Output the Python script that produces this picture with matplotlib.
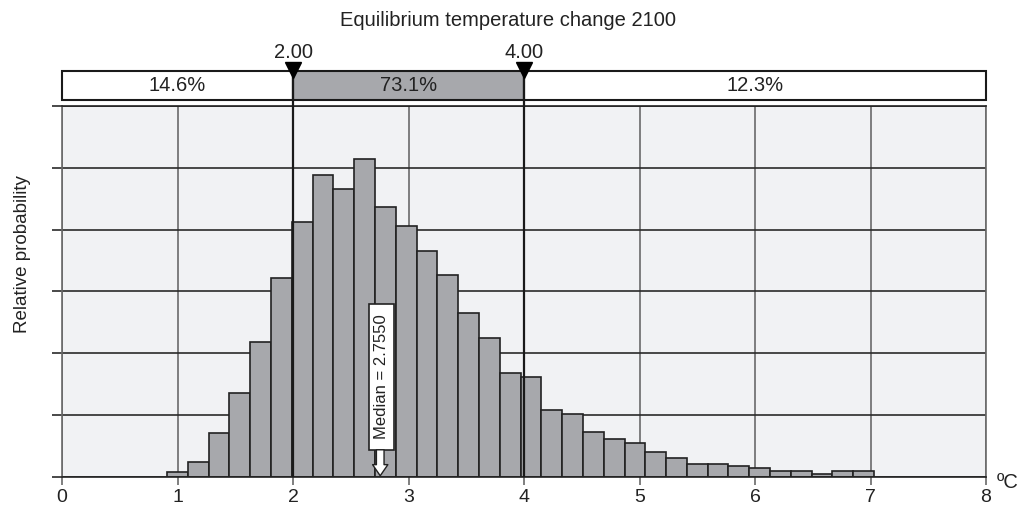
import numpy as np
import matplotlib.pyplot as plt
from matplotlib.patches import Rectangle

plt.rcParams['font.family'] = ['Liberation Sans', 'DejaVu Sans']

# histogram of equilibrium temperature change (relative units)
bin_start = 0.91
bin_width = 0.18
heights = [0.08, 0.24, 0.71, 1.36, 2.18, 3.22, 4.12, 4.88, 4.65, 5.15,
           4.37, 4.06, 3.65, 3.27, 2.65, 2.24, 1.68, 1.62, 1.09, 1.02,
           0.72, 0.61, 0.55, 0.40, 0.30, 0.21, 0.21, 0.17, 0.15, 0.09,
           0.09, 0.05, 0.09, 0.09]
thresholds = [2.00, 4.00]
shares = ['14.6%', '73.1%', '12.3%']
median = 2.7550
xticks = [0, 1, 2, 3, 4, 5, 6, 7, 8]

edges = bin_start + bin_width * np.arange(len(heights))

fig = plt.figure(figsize=(10.2, 5.14), dpi=100)
ax = fig.add_axes([0.0608, 0.072, 0.9059, 0.7218])
ax.set_facecolor('#f1f2f4')

ax.bar(edges, heights, width=bin_width, align='edge',
       facecolor='#a7a8ac', edgecolor='#222222', linewidth=1.2, zorder=2)

ax.set_xlim(0, 8)
ax.set_ylim(0, 6)
ax.set_xticks(xticks)
ax.set_yticks(range(0, 7))
ax.set_yticklabels([])
ax.set_axisbelow(True)
ax.xaxis.grid(True, color='#6a6a6a', lw=1.2)
ax.yaxis.grid(True, color='#2a2a2a', lw=1.2)
ax.tick_params(axis='x', direction='out', length=6, width=1.2, color='#6a6a6a',
               labelsize=14, labelcolor='#222222', pad=3)
ax.tick_params(axis='y', direction='out', length=7, width=1.2, color='#2a2a2a')
ax.spines['left'].set_color('#6a6a6a')
ax.spines['right'].set_color('#6a6a6a')
ax.spines['bottom'].set_color('#222222')
ax.spines['top'].set_color('#222222')
for s in ax.spines.values():
    s.set_linewidth(1.2)

# probability band above the plot
band_lo, band_hi = 6.09, 6.56
bounds = [0] + thresholds + [8]
fills = ['white', '#a7a8ac', 'white']
for i in range(3):
    ax.add_patch(Rectangle((bounds[i], band_lo), bounds[i + 1] - bounds[i],
                           band_hi - band_lo, facecolor=fills[i],
                           edgecolor='#1a1a1a', lw=1.5, clip_on=False, zorder=3))
    ax.text((bounds[i] + bounds[i + 1]) / 2, (band_lo + band_hi) / 2, shares[i],
            ha='center', va='center', fontsize=14.5, color='#222222', zorder=4)

ax.vlines(thresholds, 0, band_hi, colors='#1a1a1a', lw=1.6, zorder=5,
          clip_on=False)
ax.plot(thresholds, [6.575] * 2, 'v', ms=11, color='black', clip_on=False,
        zorder=6)
for t in thresholds:
    ax.text(t, 6.87, f'{t:.2f}', ha='center', va='center', fontsize=14.5,
            color='#222222')

# median marker
box_lo, box_hi = 0.44, 2.80
ax.add_patch(Rectangle((median - 0.097, box_lo), 0.22, box_hi - box_lo,
                       facecolor='white', edgecolor='#222222', lw=1.2, zorder=6))
ax.text(median + 0.013, (box_lo + box_hi) / 2, f'Median = {median:.4f}',
        rotation=90, ha='center', va='center', fontsize=12,
        color='#222222', zorder=7)
ax.annotate('', xy=(median, 0.02), xytext=(median, box_lo),
            arrowprops=dict(arrowstyle='simple,head_width=1.1,head_length=0.8,tail_width=0.55',
                            fc='white', ec='#222222', lw=1.0, shrinkA=0, shrinkB=0),
            zorder=7)

fig.text(0.498, 0.961, 'Equilibrium temperature change 2100', ha='center',
         va='center', fontsize=14.5, color='#222222')
fig.text(0.022, 0.506, 'Relative probability', rotation=90, ha='center',
         va='center', fontsize=13.5, color='#222222')
fig.text(0.988, 0.062, 'ºC', ha='center', va='center', fontsize=14.5,
         color='#222222')

fig.savefig('out.png', dpi=100)
